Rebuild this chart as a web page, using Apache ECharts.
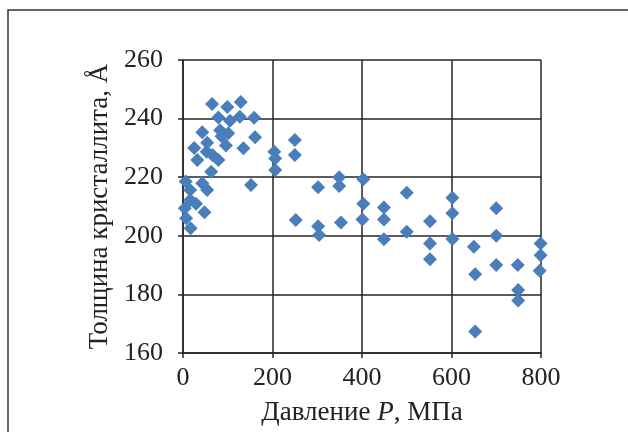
<!DOCTYPE html>
<html>
<head>
<meta charset="utf-8">
<script src="https://cdn.jsdelivr.net/npm/echarts@6/dist/echarts.min.js"></script>
<style>
  html, body { margin: 0; padding: 0; background: #fff; }
  #chart { width: 628px; height: 432px; }
</style>
</head>
<body>
<div id="chart"></div>
<script>
// давление, МПа
const pressure = [
  65, 99, 129, 79, 105, 127, 159, 43, 83, 101, 86, 96, 161, 25, 54, 135,
  32, 53, 66, 79, 63, 204, 206, 206, 250, 250, 152, 6, 16, 43, 54, 16,
  29, 4, 48, 7, 17, 252,
  302, 349, 349, 403, 500, 403, 449, 302, 304, 353, 401, 449, 500, 449,
  602, 602, 700, 552, 700, 602, 552, 650, 799, 799, 552, 700, 748, 797,
  653, 749, 749, 653
];
// толщина кристаллита, Å
const thickness = [
  245, 244, 245.7, 240.4, 239.3, 240.6, 240.3, 235.3, 236, 235, 234, 230.8, 233.6, 230, 231.8, 229.9,
  225.9, 228.7, 227.6, 225.9, 221.9, 228.7, 226.4, 222.5, 232.7, 227.6, 217.3, 218.5, 215.6, 217.9, 215.6, 212.2,
  210.9, 209.4, 208, 206, 202.6, 205.4,
  216.6, 220, 217, 219.3, 214.7, 210.9, 209.7, 203.3, 200.3, 204.5, 205.6, 205.6, 201.4, 198.8,
  213, 207.7, 209.4, 205, 200, 198.9, 197.4, 196.3, 197.4, 193.4, 192, 190, 190, 188.1,
  186.9, 181.5, 177.9, 167.3
];
const xTicks = { min: 0, max: 800, interval: 200 };
const yTicks = { min: 160, max: 260, interval: 20 };

const points = pressure.map((p, i) => [p, thickness[i]]);

const font = '"Liberation Serif", "DejaVu Serif", serif';
const lineColor = '#262626';

const chart = echarts.init(document.getElementById('chart'));
chart.setOption({
  animation: false,
  textStyle: { fontFamily: font },
  graphic: [{
    type: 'rect',
    shape: { x: 8, y: 10, width: 700, height: 500 },
    style: { fill: 'none', stroke: '#333', lineWidth: 1.5 },
    silent: true
  }],
  grid: { left: 183, right: 87, top: 60, bottom: 79 },
  xAxis: {
    type: 'value',
    min: xTicks.min, max: xTicks.max, interval: xTicks.interval,
    name: '{t|Давление }{i|P}{t|, МПа}',
    nameLocation: 'middle',
    nameGap: 46,
    nameTextStyle: {
      rich: {
        t: { fontFamily: font, fontSize: 27, color: '#222' },
        i: { fontFamily: font, fontSize: 27, fontStyle: 'italic', color: '#222' }
      }
    },
    axisLine: { show: true, lineStyle: { color: lineColor, width: 1.5 } },
    axisTick: { show: true, length: 5, lineStyle: { color: lineColor, width: 1.5 } },
    axisLabel: { fontFamily: font, fontSize: 26, color: '#222', margin: 12 },
    splitLine: { show: true, lineStyle: { color: lineColor, width: 1.5 } }
  },
  yAxis: {
    type: 'value',
    min: yTicks.min, max: yTicks.max, interval: yTicks.interval,
    name: 'Толщина кристаллита, Å',
    nameLocation: 'middle',
    nameGap: 68,
    nameTextStyle: { fontFamily: font, fontSize: 27, color: '#222' },
    axisLine: { show: true, lineStyle: { color: lineColor, width: 1.5 } },
    axisTick: { show: true, length: 5, lineStyle: { color: lineColor, width: 1.5 } },
    axisLabel: { fontFamily: font, fontSize: 26, color: '#222', margin: 20 },
    splitLine: { show: true, lineStyle: { color: lineColor, width: 1.5 } }
  },
  series: [{
    type: 'scatter',
    symbol: 'diamond',
    symbolSize: 14,
    itemStyle: { color: '#4a7ebb', opacity: 1 },
    data: points
  }]
});
</script>
</body>
</html>
